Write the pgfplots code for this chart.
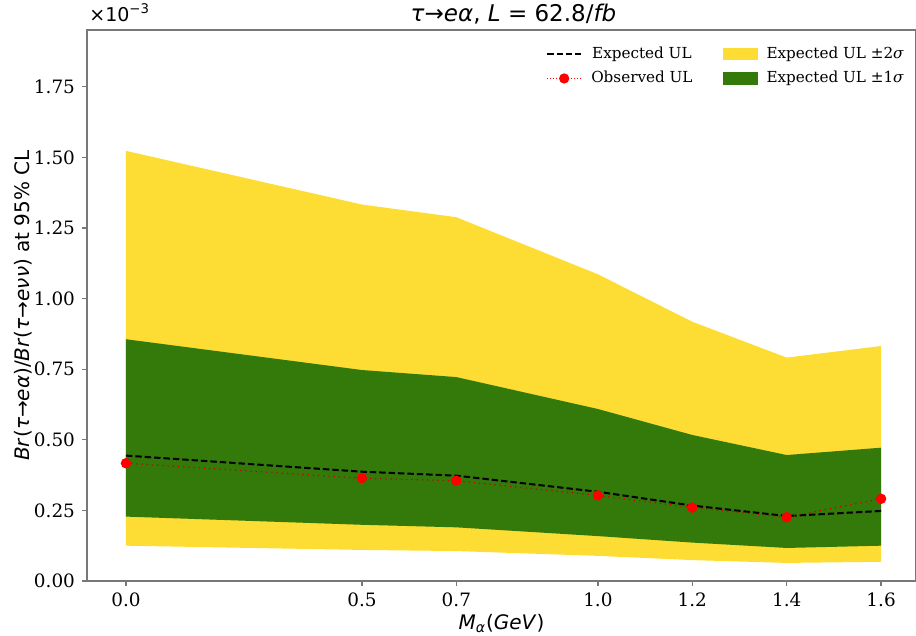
\documentclass[border=0pt]{standalone}
\usepackage{pgfplots}
\pgfplotsset{compat=1.18}
\usepgfplotslibrary{fillbetween}
\usepackage{pgfplotstable}
\usepackage{fontspec}
\setmainfont{DejaVu Serif}
\newfontfamily\sansf{DejaVu Sans}
\definecolor{band2}{RGB}{253,221,51}
\definecolor{band1}{RGB}{51,122,10}
\definecolor{spine}{RGB}{120,120,120}

\pgfplotstableread{
x   lo2   lo1   exp   obs   hi1   hi2
0.0 0.125 0.228 0.444 0.417 0.856 1.523
0.5 0.110 0.199 0.387 0.364 0.747 1.333
0.7 0.106 0.190 0.373 0.355 0.722 1.288
1.0 0.089 0.159 0.316 0.303 0.609 1.086
1.2 0.074 0.136 0.267 0.260 0.517 0.918
1.4 0.064 0.117 0.230 0.226 0.446 0.791
1.6 0.068 0.125 0.248 0.291 0.472 0.832
}\data

\begin{document}
\begin{tikzpicture}
\begin{axis}[
  at={(0,0)}, anchor=south west,
  scale only axis, width=414.5pt, height=275.5pt,
  xmin=-0.0826, xmax=1.674, ymin=0, ymax=1.951,
  xtick={0,0.5,0.7,1.0,1.2,1.4,1.6},
  ytick={0,0.25,0.5,0.75,1.0,1.25,1.5,1.75},
  scaled ticks=false,
  xticklabel style={/pgf/number format/fixed,/pgf/number format/fixed zerofill,/pgf/number format/precision=1},
  yticklabel style={/pgf/number format/fixed,/pgf/number format/fixed zerofill,/pgf/number format/precision=2},
  /pgf/number format/assume math mode=true,
  tick label style={font=\fontsize{9.2}{10}\selectfont},
  tick align=outside, xtick pos=bottom, ytick pos=left,
  major tick length=2.5pt,
  tick style={spine, line width=0.6pt},
  axis line style={spine, line width=0.7pt},
  title={\textit{τ}→\textit{eα}, \textit{L} = 62.8/\textit{fb}},
  title style={font=\sansf\fontsize{11.5}{13}\selectfont, at={(0.5,1)}, anchor=base, yshift=-2pt, xshift=6pt},
  xlabel={\textit{M}\textsubscript{\textit{α}}(\textit{GeV})},
  xlabel style={font=\sansf\fontsize{10}{12}\selectfont, yshift=3pt},
  ylabel={\textit{Br}(\textit{τ}→\textit{eα})/\textit{Br}(\textit{τ}→\textit{eνν}) at 95\% CL},
  ylabel style={font=\sansf\fontsize{10}{12}\selectfont, yshift=-6pt},
  legend columns=2,
  legend style={draw=none, fill=none, at={(0.998,0.985)}, anchor=north east,
    font=\fontsize{7.6}{9}\selectfont, row sep=1pt,
    /tikz/every odd column/.append style={column sep=2.5pt},
    /tikz/every even column/.append style={column sep=13pt}},
]
\addplot[name path=lo2, draw=none, forget plot] table[x=x,y=lo2]{\data};
\addplot[name path=hi2, draw=none, forget plot] table[x=x,y=hi2]{\data};
\addplot[band2, forget plot] fill between[of=lo2 and hi2];
\addplot[name path=lo1, draw=none, forget plot] table[x=x,y=lo1]{\data};
\addplot[name path=hi1, draw=none, forget plot] table[x=x,y=hi1]{\data};
\addplot[band1, forget plot] fill between[of=lo1 and hi1];
\addplot[black, line width=1pt, dash pattern=on 3.2pt off 1.5pt, forget plot] table[x=x,y=exp]{\data};
\addplot[red!80!black, dotted, line width=0.6pt, mark=*, mark size=2.3pt, mark options={solid, fill=red, draw=red}, forget plot] table[x=x,y=obs]{\data};

\addlegendimage{black, line width=1pt, dash pattern=on 3.2pt off 1.5pt}
\addlegendentry{Expected UL}
\addlegendimage{legend image code/.code={\fill[band2] (0cm,-0.1cm) rectangle (0.6cm,0.1cm);}}
\addlegendentry{Expected UL ±2\textit{σ}}
\addlegendimage{red, densely dotted, line width=0.5pt, mark=*, mark size=2.3pt, mark options={solid, fill=red, draw=red}}
\addlegendentry{Observed UL}
\addlegendimage{legend image code/.code={\fill[band1] (0cm,-0.1cm) rectangle (0.6cm,0.1cm);}}
\addlegendentry{Expected UL ±1\textit{σ}}
\end{axis}
\node[anchor=south west, font=\sansf\fontsize{9.5}{10}\selectfont, inner sep=0pt] at (1pt,279.5pt) {×10\textsuperscript{−3}};
\pgfresetboundingbox
\path[use as bounding box] (-43.5pt,-27.5pt) rectangle (414.5pt,290.5pt);
\end{tikzpicture}
\end{document}
